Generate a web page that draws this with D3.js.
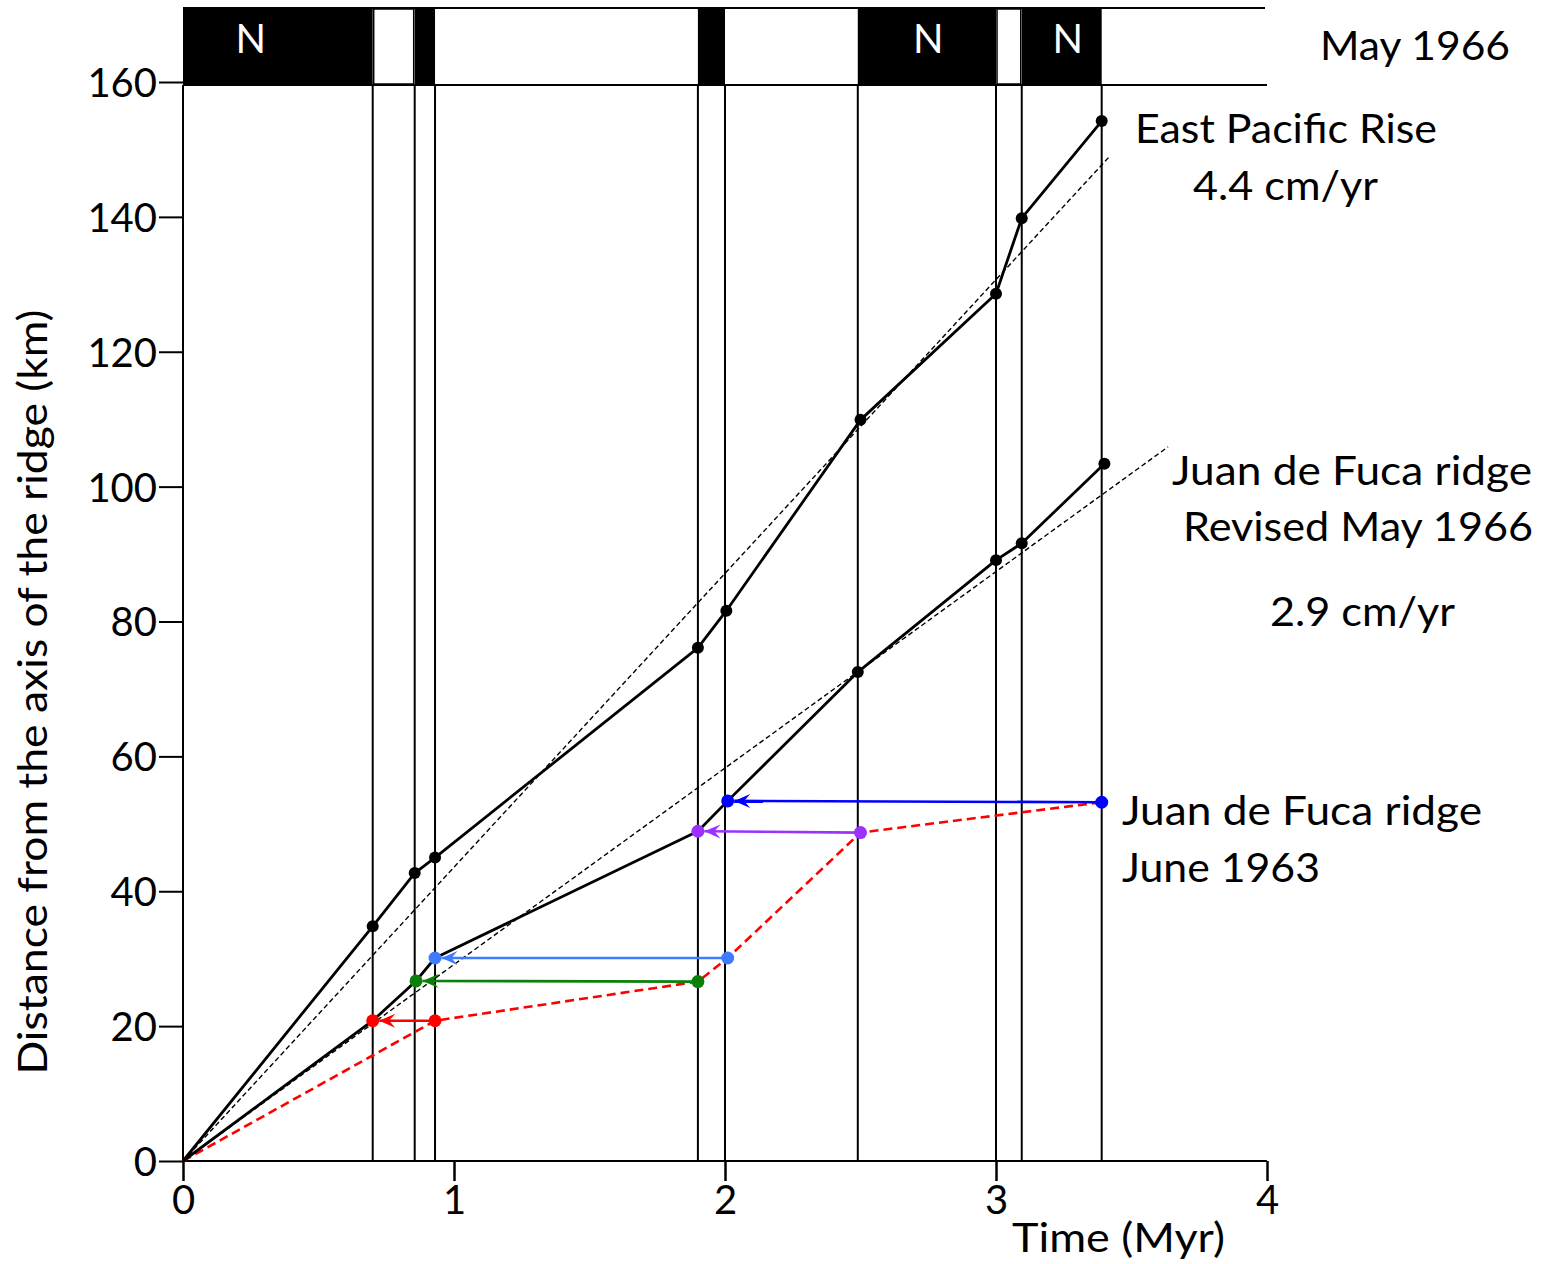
<!DOCTYPE html>
<html>
<head>
<meta charset="utf-8">
<script src="https://cdn.jsdelivr.net/npm/d3@7"></script>
<style>
  html, body { margin: 0; padding: 0; background: #fff; }
  svg { display: block; }
  text { font-family: Lato, "Open Sans", sans-serif; fill: #000; }
</style>
</head>
<body>
<svg id="chart" width="1554" height="1264"></svg>
<script>
// ---------------- data ----------------
const xTicks = [0, 1, 2, 3, 4];
const yTicks = [0, 20, 40, 60, 80, 100, 120, 140, 160];

// magnetic polarity: normal (black) intervals, Myr
const normalStart = [0.00, 0.855, 1.90, 2.49, 3.095];
const normalEnd   = [0.70, 0.93, 2.00, 3.00, 3.39];
const normalLabelAge = [0.25, 2.75, 3.265];
const normalLabel = "N";
// reversal boundaries (vertical lines)
const boundaries = [0.70, 0.855, 0.93, 1.90, 2.00, 2.49, 3.00, 3.095, 3.39];

// East Pacific Rise
const eprAge  = [0, 0.70, 0.855, 0.93, 1.90, 2.005, 2.50, 3.00, 3.095, 3.39];
const eprDist = [0, 34.8, 42.7, 45.0, 76.1, 81.6, 109.9, 128.6, 139.8, 154.2];

// Juan de Fuca ridge, revised May 1966
const jdfAge  = [0, 0.70, 0.86, 0.93, 1.90, 2.01, 2.49, 3.00, 3.095, 3.40];
const jdfDist = [0, 20.8, 26.7, 30.1, 48.9, 53.4, 72.5, 89.1, 91.6, 103.4];

// Juan de Fuca ridge, June 1963
const jdf63Age  = [0, 0.93, 1.90, 2.01, 2.50, 3.39];
const jdf63Dist = [0, 20.8, 26.6, 30.1, 48.7, 53.2];

// shifts from June 1963 points to revised points (index into jdf63 / jdf)
const shiftFrom  = [1, 2, 3, 4, 5];
const shiftTo    = [1, 2, 3, 4, 5];
const shiftColor = ["#ff0000", "#0a800a", "#3f7bff", "#9b30ff", "#0000ff"];

// fitted spreading-rate lines (end points)
const eprFitAge = [0, 3.42], eprFitDist = [0, 149.0];
const jdfFitAge = [0, 3.635], jdfFitDist = [0, 105.9];

// ---------------- layout ----------------
const svg = d3.select("#chart");
const x = d3.scaleLinear().domain([0, 4]).range([183, 1267]);
const y = d3.scaleLinear().domain([0, 160]).range([1161, 82]);
const bandTop = 8, bandBottom = 85;
const FS = 40;

// polarity band
svg.append("g").selectAll("rect").data(normalStart).join("rect")
  .attr("x", (d) => x(d))
  .attr("y", bandTop)
  .attr("width", (d, i) => x(normalEnd[i]) - x(d))
  .attr("height", bandBottom - bandTop)
  .attr("fill", "#000");
svg.append("line").attr("x1", x(0)).attr("x2", x(4) - 2).attr("y1", bandTop).attr("y2", bandTop)
  .attr("stroke", "#000").attr("stroke-width", 2);
svg.append("line").attr("x1", x(0)).attr("x2", x(4)).attr("y1", bandBottom).attr("y2", bandBottom)
  .attr("stroke", "#000").attr("stroke-width", 2);
// white boxes outlined between close normal intervals
svg.append("g").selectAll("rect").data([[0.70, 0.855], [3.00, 3.095]]).join("rect")
  .attr("x", d => x(d[0]) + 1)
  .attr("y", bandTop + 1)
  .attr("width", d => x(d[1]) - x(d[0]) - 2)
  .attr("height", bandBottom - bandTop - 2)
  .attr("fill", "#fff").attr("stroke", "#000").attr("stroke-width", 1.5);
svg.append("g").selectAll("text").data(normalLabelAge).join("text")
  .attr("x", d => x(d)).attr("y", 53)
  .attr("text-anchor", "middle")
  .attr("font-size", FS)
  .style("fill", "#fff")
  .text(normalLabel);

// vertical boundary lines
svg.append("g").selectAll("line").data(boundaries).join("line")
  .attr("x1", d => x(d)).attr("x2", d => x(d))
  .attr("y1", bandBottom).attr("y2", y(0))
  .attr("stroke", "#000").attr("stroke-width", 2);

// axes
const xAxis = svg.append("g").attr("transform", `translate(0,${y(0)})`)
  .call(d3.axisBottom(x).tickValues(xTicks).tickSize(20).tickPadding(4).tickFormat(d3.format("d")));
xAxis.select(".domain").attr("stroke-width", 2).attr("d", `M${x(0)},0H${x(4)}`);
xAxis.selectAll(".tick line").attr("stroke-width", 2.5);
xAxis.selectAll(".tick text").attr("font-size", FS).attr("font-family", "Lato").attr("dy", "0.72em");

const yAxis = svg.append("g").attr("transform", `translate(${x(0)},0)`)
  .call(d3.axisLeft(y).tickValues(yTicks).tickSize(24).tickPadding(2).tickFormat(d3.format("d")));
yAxis.select(".domain").attr("stroke-width", 2).attr("d", `M0,${bandBottom}V${y(0)}`);
yAxis.selectAll(".tick line").attr("stroke-width", 2);
yAxis.selectAll(".tick text").attr("font-size", FS).attr("font-family", "Lato").attr("dy", "0.36em");

// fitted lines
const line = d3.line().x(d => x(d[0])).y(d => y(d[1]));
svg.append("path").attr("d", line(eprFitAge.map((a, i) => [a, eprFitDist[i]])))
  .attr("fill", "none").attr("stroke", "#000").attr("stroke-width", 1.4).attr("stroke-dasharray", "5,3");
svg.append("path").attr("d", line(jdfFitAge.map((a, i) => [a, jdfFitDist[i]])))
  .attr("fill", "none").attr("stroke", "#000").attr("stroke-width", 1.4).attr("stroke-dasharray", "5,3");

// June 1963 red dashed
svg.append("path").attr("d", line(jdf63Age.map((a, i) => [a, jdf63Dist[i]])))
  .attr("fill", "none").attr("stroke", "#ff0000").attr("stroke-width", 2.6).attr("stroke-dasharray", "9,5");

// EPR and revised JdF solid
svg.append("path").attr("d", line(eprAge.map((a, i) => [a, eprDist[i]])))
  .attr("fill", "none").attr("stroke", "#000").attr("stroke-width", 2.8).attr("stroke-linejoin", "round");
svg.append("path").attr("d", line(jdfAge.map((a, i) => [a, jdfDist[i]])))
  .attr("fill", "none").attr("stroke", "#000").attr("stroke-width", 2.8).attr("stroke-linejoin", "round");

// black dots
svg.append("g").selectAll("circle").data(eprAge.slice(1)).join("circle")
  .attr("cx", d => x(d)).attr("cy", (d, i) => y(eprDist[i + 1])).attr("r", 6).attr("fill", "#000");
const jdfBlack = jdfAge.map((a, i) => i).filter(i => i > 0 && !shiftTo.includes(i));
svg.append("g").selectAll("circle").data(jdfBlack).join("circle")
  .attr("cx", i => x(jdfAge[i])).attr("cy", i => y(jdfDist[i])).attr("r", 6).attr("fill", "#000");

// arrow markers
const defs = svg.append("defs");
shiftColor.forEach((c, k) => {
  defs.append("marker").attr("id", "ah" + k)
    .attr("viewBox", "-17 -8 18 16").attr("refX", 0).attr("refY", 0)
    .attr("markerWidth", 18).attr("markerHeight", 16)
    .attr("markerUnits", "userSpaceOnUse").attr("orient", "auto")
    .append("path").attr("d", "M0,0 L-16,-7 L-10,0 L-16,7 Z").attr("fill", c);
});

// shift arrows
const R = 6.5;
shiftFrom.forEach((f, k) => {
  const t = shiftTo[k];
  const x1 = x(jdf63Age[f]), y1 = y(jdf63Dist[f]);
  const x2 = x(jdfAge[t]), y2 = y(jdfDist[t]);
  const len = Math.hypot(x2 - x1, y2 - y1);
  const ex = x2 - (x2 - x1) / len * R, ey = y2 - (y2 - y1) / len * R;
  svg.append("line").attr("x1", x1).attr("y1", y1).attr("x2", ex).attr("y2", ey)
    .attr("stroke", shiftColor[k]).attr("stroke-width", 2.6)
    .attr("marker-end", `url(#ah${k})`);
  svg.append("circle").attr("cx", x1).attr("cy", y1).attr("r", R).attr("fill", shiftColor[k]);
  svg.append("circle").attr("cx", x2).attr("cy", y2).attr("r", R).attr("fill", shiftColor[k]);
});

// annotations
function label(t, px, py, w, anchor) {
  const el = svg.append("text").attr("x", px).attr("y", py).attr("font-size", FS).text(t);
  if (anchor) el.attr("text-anchor", anchor);
  if (w) el.attr("textLength", w).attr("lengthAdjust", "spacingAndGlyphs");
  return el;
}
label("May 1966", 1320, 60, 190);
label("East Pacific Rise", 1135, 143, 302);
label("4.4 cm/yr", 1193, 200, 185);
label("Juan de Fuca ridge", 1172, 485, 360);
label("Revised May 1966", 1183, 541, 350);
label("2.9 cm/yr", 1270, 626, 185);
label("Juan de Fuca ridge", 1122, 825, 360);
label("June 1963", 1122, 882, 198);
label("Time (Myr)", 1012, 1252, 213);

svg.append("text")
  .attr("transform", "translate(47,692) rotate(-90)")
  .attr("text-anchor", "middle")
  .attr("font-size", FS)
  .attr("textLength", 765).attr("lengthAdjust", "spacingAndGlyphs")
  .text("Distance from the axis of the ridge (km)");
</script>
</body>
</html>
